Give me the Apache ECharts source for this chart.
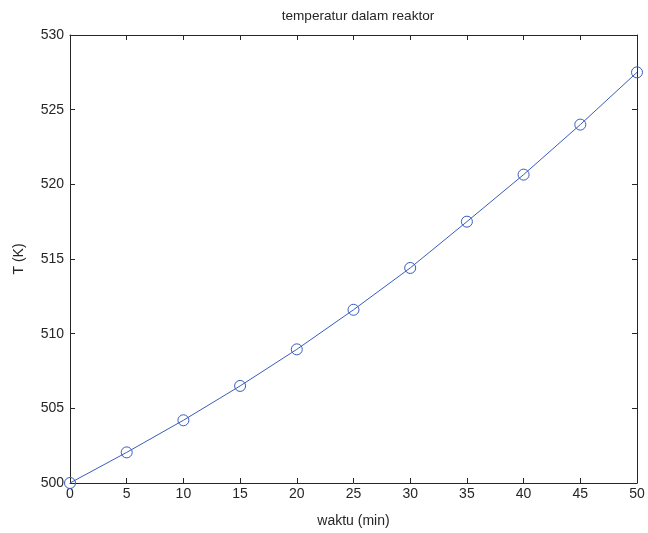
<!DOCTYPE html>
<html>
<head>
<meta charset="utf-8">
<script src="https://cdn.jsdelivr.net/npm/echarts@6/dist/echarts.min.js"></script>
<style>html,body{margin:0;padding:0;background:#fff}#c{width:648px;height:533px}</style>
</head>
<body>
<div id="c"></div>
<script>
const waktu = [0, 5, 10, 15, 20, 25, 30, 35, 40, 45, 50];
const suhu = [500, 502.05, 504.2, 506.5, 508.95, 511.6, 514.4, 517.5, 520.65, 524.0, 527.5];
const titleText = 'temperatur dalam reaktor';
const xName = 'waktu (min)';
const yName = 'T (K)';

const chart = echarts.init(document.getElementById('c'));
const font = 'Liberation Sans, Arial, sans-serif';
const axisCol = '#262626';
const common = {
  axisLine: {show: true, onZero: false, lineStyle: {color: axisCol, width: 1}},
  axisTick: {show: true, inside: true, length: 5, lineStyle: {color: axisCol}},
  splitLine: {show: false}
};
chart.setOption({
  animation: false,
  backgroundColor: '#fff',
  title: {text: titleText, left: 353, textAlign: 'center', top: 4,
    textStyle: {fontFamily: font, fontSize: 13.6, fontWeight: 'normal', color: '#262626'}},
  grid: {left: 70, right: 11, top: 35, bottom: 50},
  xAxis: [
    Object.assign({type: 'value', min: 0, max: 50, interval: 5, position: 'bottom',
      name: xName, nameLocation: 'middle', nameGap: 31,
      nameTextStyle: {fontFamily: font, fontSize: 14, color: '#262626'},
      axisLabel: {fontFamily: font, fontSize: 14, color: '#262626', margin: 4}}, common),
    Object.assign({type: 'value', min: 0, max: 50, interval: 5, position: 'top',
      axisLabel: {show: false}}, common)
  ],
  yAxis: [
    Object.assign({type: 'value', min: 500, max: 530, interval: 5, position: 'left',
      name: yName, nameLocation: 'middle', nameGap: 44,
      nameTextStyle: {fontFamily: font, fontSize: 14, color: '#262626'},
      axisLabel: {fontFamily: font, fontSize: 14, color: '#262626', margin: 6}}, common),
    Object.assign({type: 'value', min: 500, max: 530, interval: 5, position: 'right',
      axisLabel: {show: false}}, common)
  ],
  series: [{
    type: 'line',
    data: waktu.map((x, i) => [x, suhu[i]]),
    smooth: false,
    symbol: 'circle',
    symbolSize: 11,
    showAllSymbol: true,
    clip: false,
    lineStyle: {color: '#3a5cbd', width: 1},
    itemStyle: {color: 'rgba(0,0,0,0)', borderColor: '#3a5cbd', borderWidth: 1}
  }]
});
</script>
</body>
</html>
